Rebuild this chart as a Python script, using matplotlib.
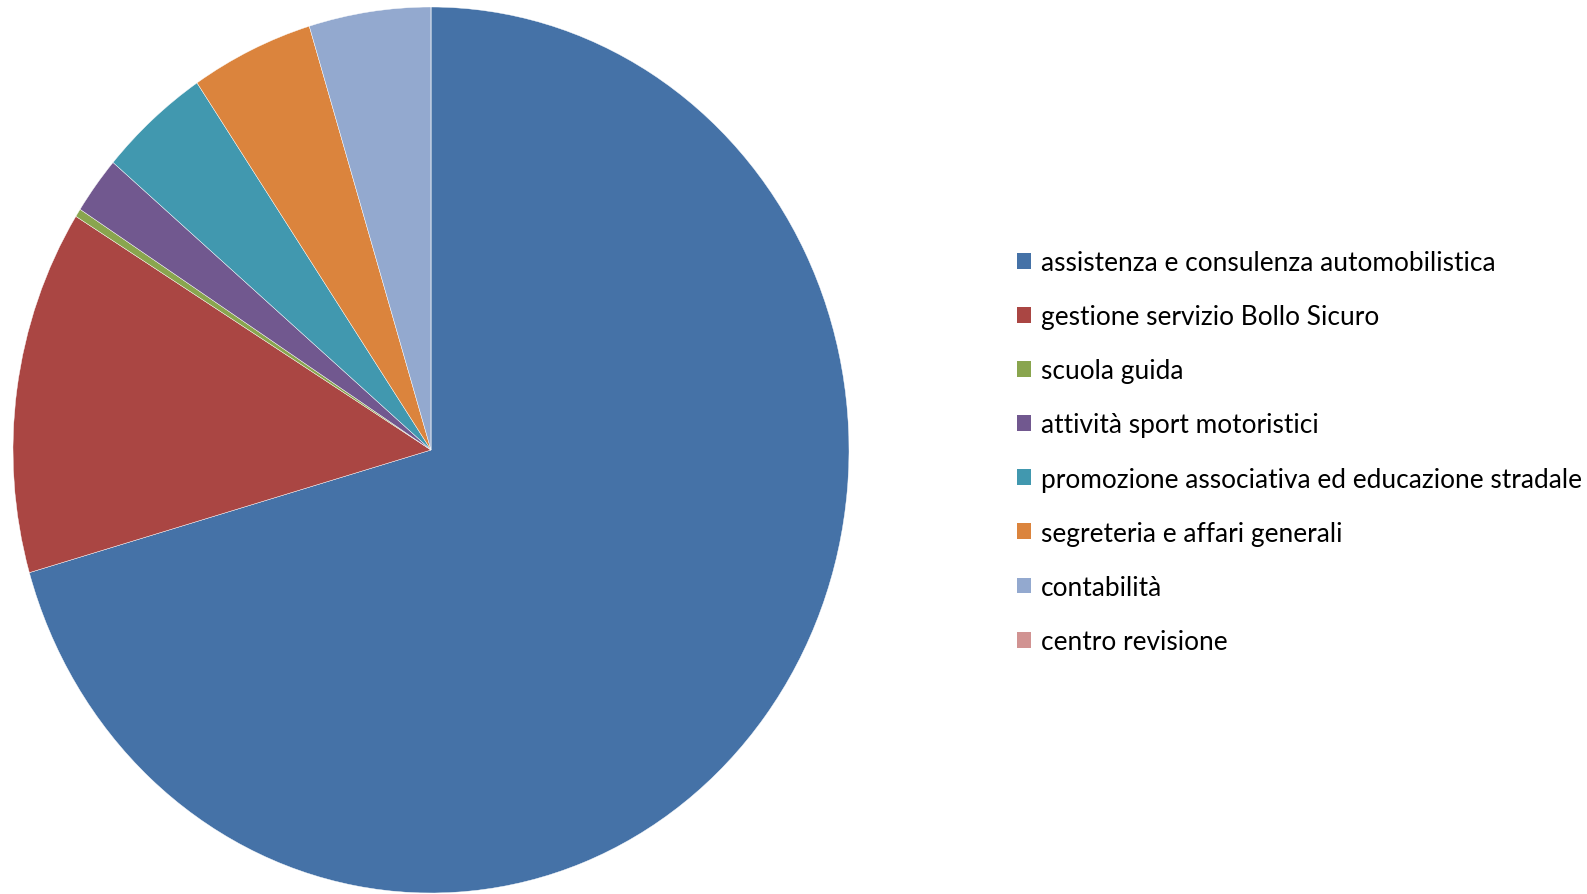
import matplotlib
matplotlib.use("Agg")
import matplotlib.pyplot as plt
from matplotlib.patches import Patch

categories = [
    "assistenza e consulenza automobilistica",
    "gestione servizio Bollo Sicuro",
    "scuola guida",
    "attività sport motoristici",
    "promozione associativa ed educazione stradale",
    "segreteria e affari generali",
    "contabilità",
    "centro revisione",
]
values = [70.5, 13.3, 0.3, 2.1, 4.3, 4.75, 4.7, 0.0]
colors = ["#4572A7", "#AA4643", "#89A54E", "#71588F", "#4198AF", "#DB843D", "#93A9CF", "#D19392"]

W, H = 1587, 895
fig = plt.figure(figsize=(W / 100, H / 100), dpi=100)
plt.rcParams['font.family'] = ['Lato', 'DejaVu Sans']

# pie area (elliptical in the reference)
ax = fig.add_axes([13 / W, 1 - 894 / H, 836 / W, 886 / H])
ax.pie(values, colors=colors, startangle=90, counterclock=False, radius=1,
       wedgeprops=dict(linewidth=0.3, edgecolor="white"), normalize=True)
ax.set_aspect('auto')
ax.set_xlim(-1, 1)
ax.set_ylim(-1, 1)
ax.axis('off')

handles = [Patch(facecolor=c, edgecolor='none') for c in colors]
fig.legend(handles, categories, loc='upper left',
           bbox_to_anchor=(1017 / W, 1 - 251 / H), frameon=False,
           fontsize=18.9, handlelength=0.55, handleheight=0.55,
           handletextpad=0.35, labelspacing=1.11, borderaxespad=0, borderpad=0)

fig.savefig("out.png", dpi=100)
